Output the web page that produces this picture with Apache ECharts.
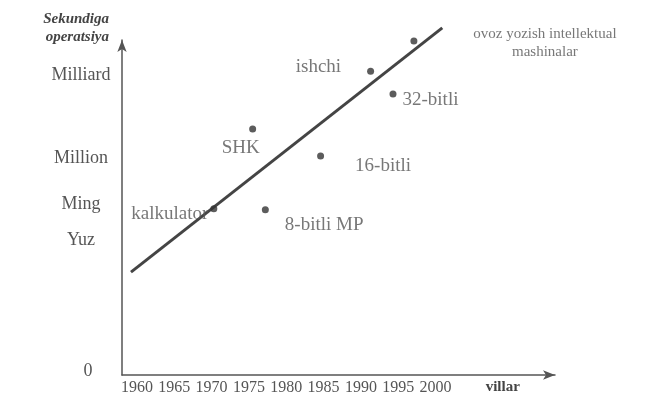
<!DOCTYPE html>
<html>
<head>
<meta charset="utf-8">
<script src="https://cdn.jsdelivr.net/npm/echarts@6/dist/echarts.min.js"></script>
<style>
html,body{margin:0;padding:0;background:#fff;}
#chart{width:664px;height:401px;}
</style>
</head>
<body>
<div id="chart"></div>
<script>
// Data (x = year, y = schematic level of operations per second)
var xTickValues = [1960, 1965, 1970, 1975, 1980, 1985, 1990, 1995, 2000];
var xAxisTitle = 'villar';
var xAxisTitleAt = 2009;
var yTickValues = [0, 40.3, 51, 64.8, 89.6];
var yTickLabels = ['0', 'Yuz', 'Ming', 'Million', 'Milliard'];
var yAxisTitle = 'Sekundiga\noperatsiya';
var pointNames = ['kalkulator', 'SHK', '8-bitli MP', '16-bitli', 'ishchi', '32-bitli', 'ovoz yozish intellektual\nmashinalar'];
var pointYears = [1970.3, 1975.5, 1977.2, 1984.6, 1991.3, 1994.3, 1997.1];
var pointLevels = [49.6, 73.4, 49.3, 65.4, 90.7, 83.9, 99.7];
var trendYears = [1959.2, 2000.9];
var trendLevels = [30.7, 103.6];

var FONT = '"Liberation Serif", "DejaVu Serif", serif';
var TXT = '#555';

// label placement per point (style only)
var labelStyles = [
  {position: 'left', distance: 2, offset: [0, 5]},
  {position: 'bottom', distance: 4, offset: [-12, 2]},
  {position: 'right', distance: 16, offset: [0, 15]},
  {position: 'right', distance: 31, offset: [0, 10]},
  {position: 'left', distance: 26, offset: [0, -4]},
  {position: 'right', distance: 6, offset: [0, 6]},
  {position: 'inside', offset: [131, 2], align: 'center', fontSize: 15, lineHeight: 18}
];

var pointData = pointNames.map(function (n, i) {
  var ls = labelStyles[i];
  return {
    name: n,
    value: [pointYears[i], pointLevels[i]],
    label: Object.assign({show: true, formatter: '{b}'}, ls)
  };
});

var chart = echarts.init(document.getElementById('chart'), null, {renderer: 'canvas'});
chart.setOption({
  animation: false,
  backgroundColor: '#fff',
  textStyle: {fontFamily: FONT, color: TXT},
  grid: {left: 122, right: 109, top: 40, bottom: 26, containLabel: false},
  xAxis: {
    type: 'value', min: 1958, max: 2016,
    splitLine: {show: false},
    axisTick: {show: false},
    axisLine: {show: true, lineStyle: {color: '#555', width: 1.5}, symbol: ['none', 'arrow'], symbolSize: [7, 12]},
    axisLabel: {
      customValues: xTickValues.concat([xAxisTitleAt]),
      margin: 5, fontSize: 16, color: TXT, fontFamily: FONT,
      formatter: function (v) { return v === xAxisTitleAt ? '{b|' + xAxisTitle + '}' : String(v); },
      rich: {b: {fontWeight: 'bold', fontSize: 15, color: '#444', fontFamily: FONT}}
    }
  },
  yAxis: {
    type: 'value', min: 0, max: 100,
    splitLine: {show: false},
    axisTick: {show: false},
    axisLine: {show: true, lineStyle: {color: '#555', width: 1.5}, symbol: ['none', 'arrow'], symbolSize: [7, 12]},
    name: yAxisTitle,
    nameLocation: 'end',
    nameGap: -6,
    nameTextStyle: {fontFamily: FONT, fontWeight: 'bold', fontStyle: 'italic', fontSize: 15, color: '#444', align: 'right', lineHeight: 18, padding: [0, 13, 0, 0]},
    axisLabel: {
      customValues: yTickValues,
      margin: 41, align: 'center', fontSize: 18, color: TXT, fontFamily: FONT,
      formatter: function (v) {
        var i = yTickValues.indexOf(v);
        if (i === 0) return '{z|' + yTickLabels[i] + '}';
        return i >= 0 ? yTickLabels[i] : '';
      },
      rich: {z: {fontSize: 18, color: TXT, fontFamily: FONT, padding: [0, 0, 8, 14]}}
    }
  },
  series: [
    {
      type: 'line',
      data: trendYears.map(function (y, i) { return [y, trendLevels[i]]; }),
      showSymbol: false,
      clip: false,
      lineStyle: {color: '#444', width: 3},
      z: 2
    },
    {
      type: 'scatter',
      data: pointData,
      symbolSize: 7,
      itemStyle: {color: '#333'},
      clip: false,
      label: {fontSize: 19, color: TXT, fontFamily: FONT},
      z: 3
    }
  ]
});
</script>
</body>
</html>
